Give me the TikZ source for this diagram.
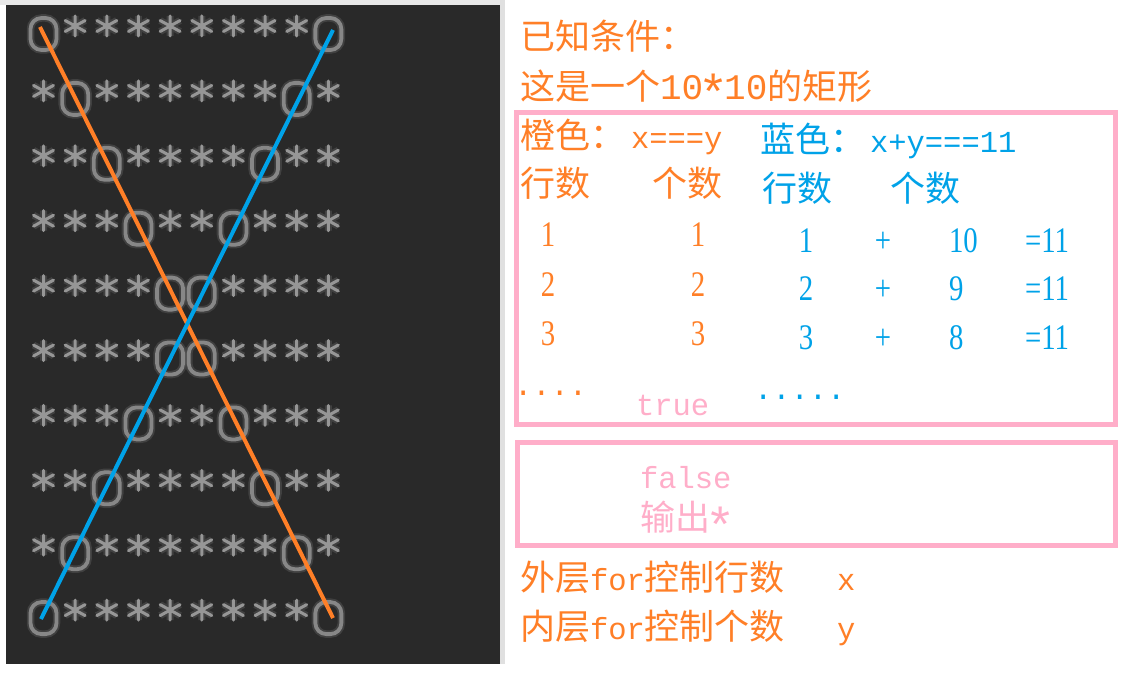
\documentclass[tikz,border=0pt]{standalone}
\usepackage{fontspec}
\newfontfamily\cjkfam{Noto Sans CJK SC}
\newfontfamily\monofam{Liberation Mono}
\newfontfamily\numfam[FakeStretch=0.8]{Liberation Serif}
\newcommand\zhf{\cjkfam\fontsize{35}{40}\selectfont}
\newcommand\mof{\monofam\fontsize{30.5}{36}\selectfont}
\newcommand\mofb{\monofam\fontsize{36}{40}\selectfont}
\newcommand\nuf{\numfam\fontsize{36}{40}\selectfont}
\newcommand\bigast[1]{\makebox[21pt][c]{\raisebox{#1}{\scalebox{1.4}{*}}}}
\definecolor{org}{RGB}{255,127,39}
\definecolor{blu}{RGB}{0,162,232}
\definecolor{pnk}{RGB}{255,174,201}
\definecolor{panel}{RGB}{41,41,41}
\definecolor{glyph}{RGB}{150,150,150}
\definecolor{oglyph}{RGB}{135,135,135}
\begin{document}
\begin{tikzpicture}[x=1pt,y=-1pt,
  txt/.style={inner sep=0pt, outer sep=0pt, anchor=base west},
  num/.style={inner sep=0pt, outer sep=0pt, anchor=base, font=\nuf},
  numw/.style={inner sep=0pt, outer sep=0pt, anchor=base west, font=\nuf},
  starline/.style={draw=glyph, line width=3pt, line cap=round,
    preaction={draw=glyph, line width=7pt, opacity=0.22}},
  obox/.style={draw=oglyph, line width=3.8pt, rounded corners=11pt,
    minimum width=26pt, minimum height=32pt, inner sep=0pt,
    preaction={draw=oglyph, line width=7.5pt, opacity=0.25}},
  orgline/.style={draw=org, line width=4pt},
  bluline/.style={draw=blu, line width=4pt},
  pbox/.style={draw=pnk, line width=5pt}]
\useasboundingbox (0,0) rectangle (1126,676);
\fill[white] (0,0) rectangle (1126,676);
% left screenshot panel
\fill[black!9] (0,0) rectangle (505,5);
\fill[black!12] (500,0) rectangle (505,664);
\fill[panel] (6,5) rectangle (500,664);
\foreach \r in {1,...,10}{
  \foreach \c in {1,...,10}{
    \pgfmathsetmacro\xx{43.5+(\c-1)*31.65}
    \pgfmathsetmacro\yy{26+(\r-1)*64.9}
    \pgfmathtruncatemacro\isO{or(\c==\r,\c==11-\r)}
    \ifnum\isO=1
      \node[obox] (o-\r-\c) at (\xx,\yy+8) {};
    \else
      \draw[starline] (\xx,\yy-10) -- (\xx,\yy+10)
                      (\xx-10,\yy-5.5) -- (\xx+10,\yy+5.5)
                      (\xx-10,\yy+5.5) -- (\xx+10,\yy-5.5);
    \fi
  }
}
\coordinate (os) at (40,27);
\coordinate (oe) at (333,618);
\coordinate (bs) at (333,30);
\coordinate (be) at (41,619);
\draw[orgline] (os) -- (oe);
\draw[bluline] (bs) -- (be);
% right text
\node[txt, text=org, font=\zhf] (t1) at (520,50) {已知条件：};
\node[txt, text=org] (t2) at (520,100) {{\zhf 这是一个}{\mofb 10\bigast{-11pt}10}{\zhf 的矩形}};
\draw[pbox] (516.5,112.5) rectangle (1115.5,424.5);
\node[txt, text=org] (t3) at (520,149) {{\zhf 橙色：}\hspace{6pt}{\mof x===y}};
\node[txt, text=blu] (t4) at (760,153) {{\zhf 蓝色：}\hspace{5pt}{\mof x+y===11}};
\node[txt, text=org, font=\zhf] (t5) at (520,197) {行数};
\node[txt, text=org, font=\zhf] (t6) at (652,197) {个数};
\node[txt, text=blu, font=\zhf] (t7) at (762,202) {行数};
\node[txt, text=blu, font=\zhf] (t8) at (890,202) {个数};
% orange columns
\node[num, text=org] (a1) at (548,247) {1};
\node[num, text=org] (b1) at (698,247) {1};
\node[num, text=org] (a2) at (548,296) {2};
\node[num, text=org] (b2) at (698,296) {2};
\node[num, text=org] (a3) at (548,345) {3};
\node[num, text=org] (b3) at (698,345) {3};
% blue columns
\node[num, text=blu] (c1) at (806,252) {1};
\node[num, text=blu] (p1) at (883,252) {+};
\node[numw, text=blu] (d1) at (949,252) {10};
\node[numw, text=blu] (e1) at (1025,252) {=11};
\node[num, text=blu] (c2) at (806,300) {2};
\node[num, text=blu] (p2) at (883,300) {+};
\node[numw, text=blu] (d2) at (949,300) {9};
\node[numw, text=blu] (e2) at (1025,300) {=11};
\node[num, text=blu] (c3) at (806,349) {3};
\node[num, text=blu] (p3) at (883,349) {+};
\node[numw, text=blu] (d3) at (949,349) {8};
\node[numw, text=blu] (e3) at (1025,349) {=11};
\node[txt, text=org, font=\mof] (dots1) at (514,395) {....};
\node[txt, text=blu, font=\mof] (dots2) at (754,399) {.....};
\node[txt, text=pnk, font=\mof] (tr) at (636,415) {true};
% second box
\draw[pbox] (517.5,442.5) rectangle (1115.5,545);
\node[txt, text=pnk, font=\mof] (fa) at (640,488) {false};
\node[txt, text=pnk] (out) at (640,530) {{\zhf 输出}{\mofb\bigast{-13pt}}};
% bottom lines
\node[txt, text=org] (l1) at (520,590) {{\zhf 外层}{\mof for}{\zhf 控制行数}};
\node[txt, text=org, font=\mof] (lx) at (837,590) {x};
\node[txt, text=org] (l2) at (520,639) {{\zhf 内层}{\mof for}{\zhf 控制个数}};
\node[txt, text=org, font=\mof] (ly) at (837,639) {y};
\end{tikzpicture}
\end{document}
